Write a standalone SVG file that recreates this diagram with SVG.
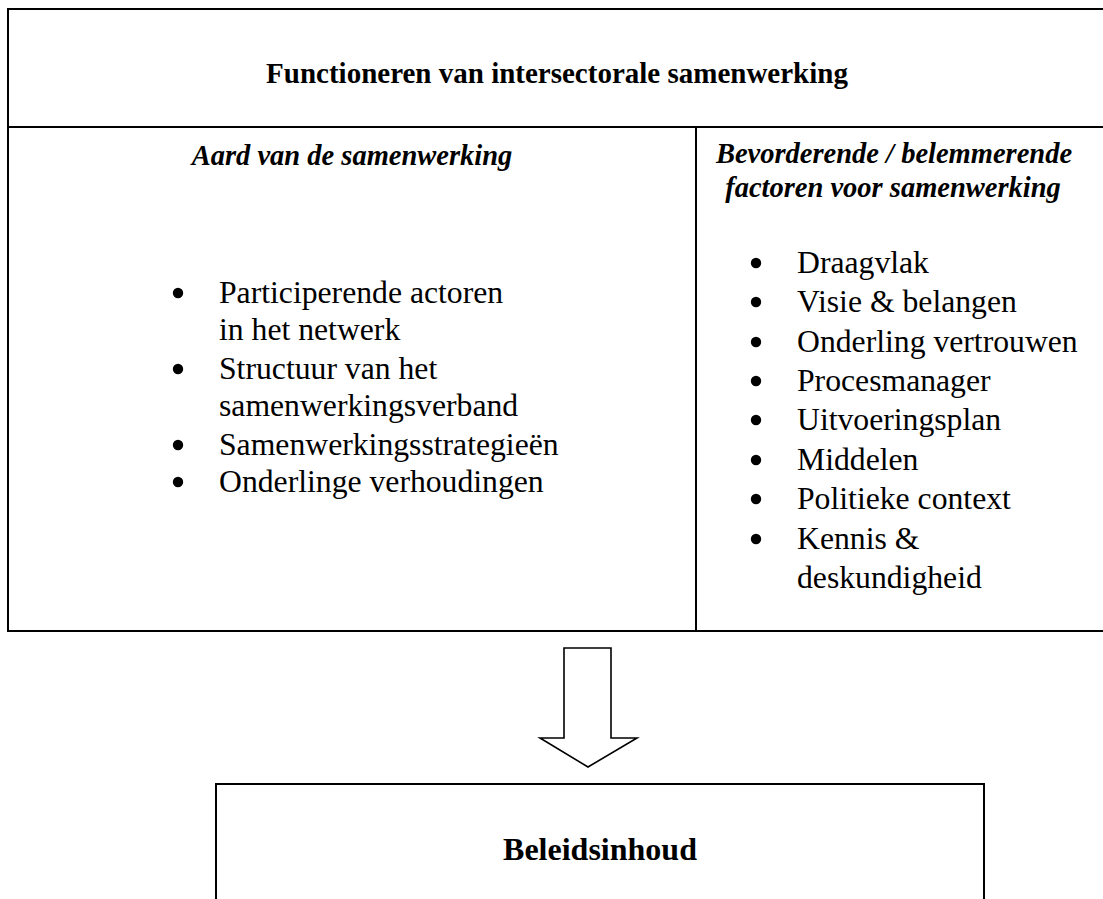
<svg xmlns="http://www.w3.org/2000/svg" width="1103" height="899" viewBox="0 0 1103 899">
  <style>
    .frame { fill: none; stroke: #000; stroke-width: 2; }
    .t { font-family: "Liberation Serif", "Times New Roman", serif; fill: #000; }
    .title { font-size: 29px; font-weight: bold; }
    .head { font-size: 28.5px; font-weight: bold; font-style: italic; }
    .item { font-size: 31.7px; }
    .dot { fill: #000; }
    .big { font-size: 32px; font-weight: bold; }
  </style>
  <defs>
    <circle id="bullet" r="5.2"/>
  </defs>

  <!-- top frame: cooperation -->
  <g id="samenwerking">
    <rect class="frame" x="8" y="9" width="1100" height="622"/>
    <line class="frame" x1="8" y1="127" x2="1108" y2="127"/>
    <line class="frame" x1="696" y1="127" x2="696" y2="631"/>
    <text class="t title" x="557" y="83" text-anchor="middle">Functioneren van intersectorale samenwerking</text>
  </g>

  <!-- left column -->
  <g id="aard">
    <text class="t head" x="352" y="165" text-anchor="middle">Aard van de samenwerking</text>
    <use href="#bullet" class="dot" x="178" y="293"/>
    <text class="t item" x="219" y="303">Participerende actoren</text>
    <text class="t item" x="219" y="340">in het netwerk</text>
    <use href="#bullet" class="dot" x="178" y="369"/>
    <text class="t item" x="219" y="379">Structuur van het</text>
    <text class="t item" x="219" y="416">samenwerkingsverband</text>
    <use href="#bullet" class="dot" x="178" y="445"/>
    <text class="t item" x="219" y="455">Samenwerkingsstrategieën</text>
    <use href="#bullet" class="dot" x="178" y="482"/>
    <text class="t item" x="219" y="492">Onderlinge verhoudingen</text>
  </g>

  <!-- right column -->
  <g id="factoren">
    <text class="t head" x="894" y="163" text-anchor="middle">Bevorderende / belemmerende</text>
    <text class="t head" x="893" y="197" text-anchor="middle">factoren voor samenwerking</text>
    <use href="#bullet" class="dot" x="756" y="263"/>
    <text class="t item" x="797" y="273">Draagvlak</text>
    <use href="#bullet" class="dot" x="756" y="302"/>
    <text class="t item" x="797" y="312">Visie &amp; belangen</text>
    <use href="#bullet" class="dot" x="756" y="342"/>
    <text class="t item" x="797" y="352">Onderling vertrouwen</text>
    <use href="#bullet" class="dot" x="756" y="381"/>
    <text class="t item" x="797" y="391">Procesmanager</text>
    <use href="#bullet" class="dot" x="756" y="420"/>
    <text class="t item" x="797" y="430">Uitvoeringsplan</text>
    <use href="#bullet" class="dot" x="756" y="460"/>
    <text class="t item" x="797" y="470">Middelen</text>
    <use href="#bullet" class="dot" x="756" y="499"/>
    <text class="t item" x="797" y="509">Politieke context</text>
    <use href="#bullet" class="dot" x="756" y="539"/>
    <text class="t item" x="797" y="549">Kennis &amp;</text>
    <text class="t item" x="797" y="588">deskundigheid</text>
  </g>

  <!-- block arrow -->
  <g id="connectors">
    <path d="M564,648 H611 V738 H637 L588,767 L540,738 H564 Z" fill="#fff" stroke="#000" stroke-width="1.6" stroke-linejoin="miter"/>
  </g>

  <!-- bottom frame: policy content -->
  <g id="beleidsinhoud">
    <rect class="frame" x="216" y="784" width="768" height="130"/>
    <text class="t big" x="600" y="860" text-anchor="middle">Beleidsinhoud</text>
  </g>
</svg>
